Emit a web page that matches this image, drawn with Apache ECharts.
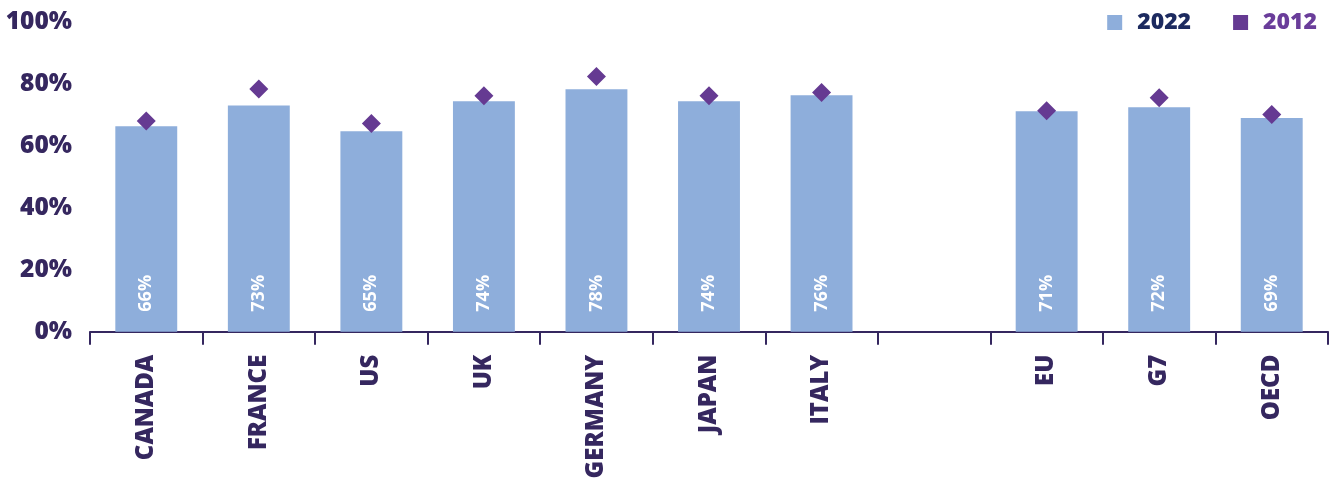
<!DOCTYPE html>
<html>
<head>
<meta charset="utf-8">
<script src="https://cdn.jsdelivr.net/npm/echarts@6/dist/echarts.min.js"></script>
<style>
html,body{margin:0;padding:0;background:#fff;}
#chart{width:1337px;height:479px;}
</style>
</head>
<body>
<div id="chart"></div>
<script>
const categories = ['CANADA','FRANCE','US','UK','GERMANY','JAPAN','ITALY','','EU','G7','OECD'];
const values2022 = [66.3, 73.0, 64.7, 74.3, 78.2, 74.3, 76.3, '-', 71.1, 72.4, 68.9];
const values2012 = [68.0, 78.3, 67.2, 76.1, 82.3, 76.1, 77.2, '-', 71.3, 75.5, 70.1];
const yTicks = [0, 20, 40, 60, 80, 100];

const axisColor = '#35275f';
const font = '"Open Sans", "Noto Sans", sans-serif';

const chart = echarts.init(document.getElementById('chart'), null, {renderer: 'canvas'});
chart.setOption({
  animation: false,
  backgroundColor: '#ffffff',
  textStyle: {fontFamily: font},
  grid: {left: 90, right: 9, top: 21.7, bottom: 147.3, containLabel: false, outerBoundsMode: 'none'},
  legend: {
    right: 15, top: 6,
    itemWidth: 15, itemHeight: 15, itemGap: 42,
    icon: 'rect',
    data: [
      {name: '2022', textStyle: {color: '#1c2a5f'}},
      {name: '2012', textStyle: {color: '#6a3d9a'}}
    ],
    textStyle: {fontSize: 23, fontWeight: 800, fontFamily: font, padding: [0,0,0,10]}
  },
  xAxis: {
    type: 'category',
    data: categories,
    boundaryGap: true,
    axisLine: {show: true, lineStyle: {color: axisColor, width: 2}},
    axisTick: {show: true, length: 13, lineStyle: {color: axisColor, width: 2}, interval: 0},
    axisLabel: {
      interval: 0, rotate: 90, margin: 23,
      color: axisColor, fontSize: 24, fontWeight: 800, fontFamily: font
    },
    splitLine: {show: false}
  },
  yAxis: {
    type: 'value',
    min: 0, max: 100, interval: 20,
    axisLine: {show: false},
    axisTick: {show: false},
    splitLine: {show: false},
    axisLabel: {
      margin: 18, color: axisColor, fontSize: 24.5, fontWeight: 800, fontFamily: font,
      formatter: function (v) { return yTicks.indexOf(v) >= 0 ? v + '%' : ''; }
    }
  },
  series: [
    {
      name: '2022',
      type: 'bar',
      data: values2022,
      barWidth: '55%',
      itemStyle: {color: '#8eaedb'},
      label: {
        show: true,
        position: 'insideBottom',
        distance: 20,
        rotate: 90,
        align: 'left',
        verticalAlign: 'middle',
        color: '#ffffff',
        fontSize: 18,
        fontWeight: 'bold',
        fontFamily: font,
        formatter: function (p) { return Math.round(p.value) + '%'; }
      },
      z: 2
    },
    {
      name: '2012',
      type: 'scatter',
      data: values2012,
      symbol: 'diamond',
      symbolSize: [19, 19],
      itemStyle: {color: '#653a92', opacity: 1},
      z: 3
    }
  ]
});
</script>
</body>
</html>
